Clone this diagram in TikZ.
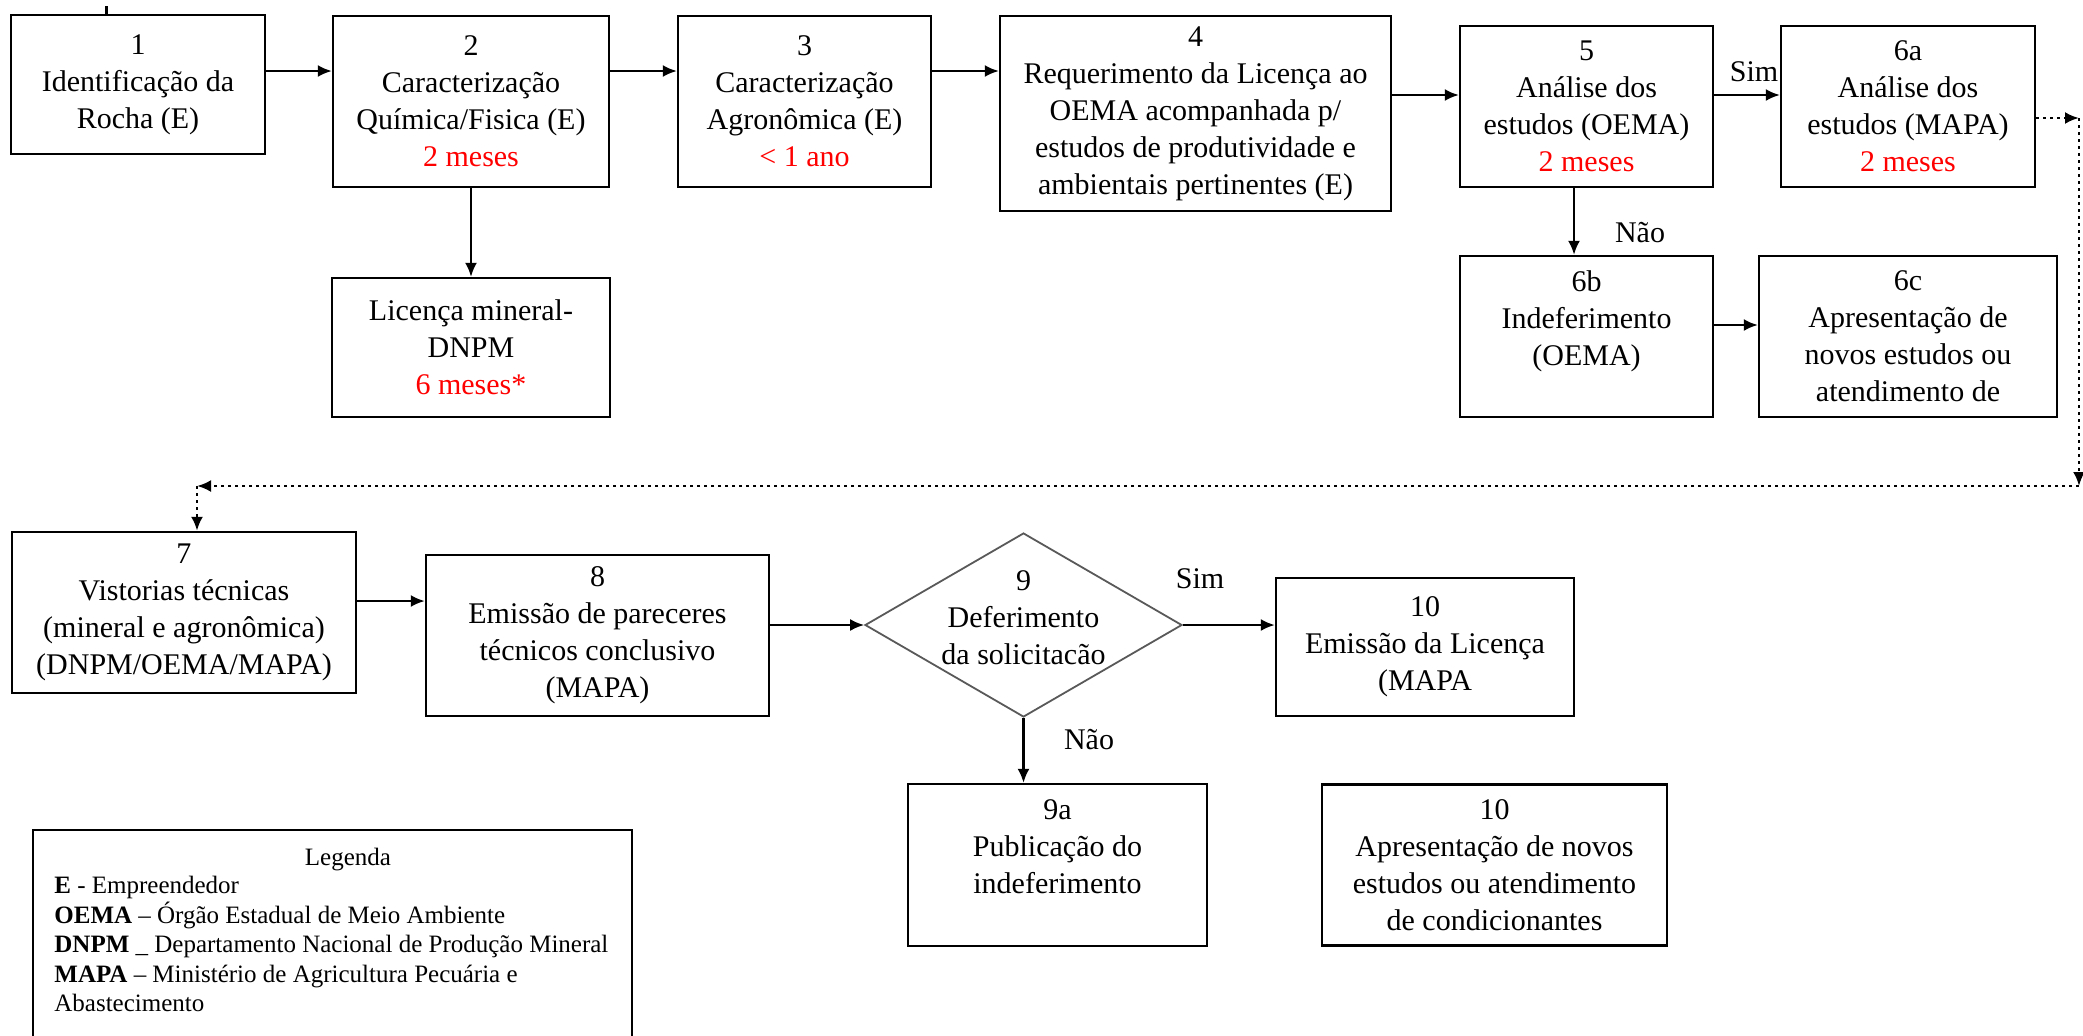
\documentclass[tikz,border=0pt]{standalone}
\usepackage{fontspec}
\setmainfont{Liberation Serif}
\usetikzlibrary{shapes.geometric,arrows.meta}
\tikzset{
  caixa/.style 2 args={draw, line width=1.2pt, align=center, inner sep=2pt,
    minimum width=#1*0.5pt, minimum height=#2*0.5pt,
    font=\fontsize{15}{18.5}\selectfont},
  decisao/.style={diamond, draw=black!65, line width=0.9pt, inner sep=0pt,
    minimum width=158.5pt, minimum height=92pt},
  texto/.style={align=center, inner sep=1pt, font=\fontsize{15}{18.5}\selectfont},
  rotulo/.style={inner sep=1pt, font=\fontsize{15}{18.5}\selectfont},
  legfont/.style={inner sep=0pt, font=\fontsize{12.5}{14.75}\selectfont},
  seta/.style={line width=1.1pt, -{Latex[length=7pt,width=6pt]}},
  pontos/.style={line width=1.3pt, dash pattern=on 1.3pt off 2.2pt,
    -{Latex[length=7pt,width=6pt]}},
}
\begin{document}
\begin{tikzpicture}[x=0.5pt, y=-0.5pt]
  \useasboundingbox (0,0) rectangle (2083,1035);
  % linha 1
  \node[caixa={254}{139}] (b1) at (138,84.5) {1\\Identificação da\\Rocha (E)};
  \node[caixa={276}{171}] (b2) at (471,101.5) {2\\Caracterização\\Química/Fisica (E)\\\textcolor{red}{2 meses}};
  \node[caixa={253}{171}] (b3) at (804.5,101.5) {3\\Caracterização\\Agronômica (E)\\\textcolor{red}{< 1 ano}};
  \node[caixa={391}{195}] (b4) at (1195.5,113.5) {4\\Requerimento da Licença ao\\OEMA acompanhada p/\\estudos de produtividade e\\ambientais pertinentes (E)};
  \node[caixa={253}{161}] (b5) at (1586.5,106.5) {5\\Análise dos\\estudos (OEMA)\\\textcolor{red}{2 meses}};
  \node[caixa={254}{161}] (b6a) at (1908,106.5) {6a\\Análise dos\\estudos (MAPA)\\\textcolor{red}{2 meses}};
  \node[caixa={278}{139}] (lic) at (471,347.5) {Licença mineral-\\DNPM\\\textcolor{red}{6 meses*}};
  \node[caixa={253}{161}] (b6b) at (1586.5,336.5) {6b\\Indeferimento\\(OEMA)\\\mbox{}};
  \node[caixa={298}{161}] (b6c) at (1908,336.5) {6c\\Apresentação de\\novos estudos ou\\atendimento de};
  % linha 2
  \node[caixa={344}{161}] (b7) at (184,612.5) {7\\Vistorias técnicas\\(mineral e agronômica)\\(DNPM/OEMA/MAPA)};
  \node[caixa={343}{161}] (b8) at (597.5,635.5) {8\\Emissão de pareceres\\técnicos conclusivo\\(MAPA)};
  \node[decisao] (d9) at (1023.5,625) {};
  \node[texto] (d9txt) at (1023.5,618) {9\\Deferimento\\da solicitacão};
  \node[caixa={298}{138}] (b10) at (1425,647) {10\\Emissão da Licença\\(MAPA};
  \node[caixa={299}{162}] (b9a) at (1057.5,865) {9a\\Publicação do\\indeferimento\\\mbox{}};
  \node[caixa={345}{161}] (b10b) at (1494.5,865) {10\\Apresentação de novos\\estudos ou atendimento\\de condicionantes};
  % legenda
  \node[draw, line width=1.2pt, minimum width=299.5pt, minimum height=120pt] (leg) at (332.5,950) {};
  \node[legfont] (legtit) at (348,860) {Legenda};
  \node[legfont, anchor=north west, align=left] (legtxt) at (54,876) {\textbf{E} - Empreendedor\\
    \textbf{OEMA} – Órgão Estadual de Meio Ambiente\\
    \textbf{DNPM} \_ Departamento Nacional de Produção Mineral\\
    \textbf{MAPA} – Ministério de Agricultura Pecuária e\\
    Abastecimento};
  % rotulos
  \node[rotulo] (sim1) at (1754,72) {Sim};
  \node[rotulo] (nao1) at (1640,233) {Não};
  \node[rotulo] (sim2) at (1200,579) {Sim};
  \node[rotulo] (nao2) at (1089,740) {Não};
  % niveis das setas
  \coordinate (l1) at (0,71);
  \coordinate (l2) at (0,95);
  \coordinate (l3) at (0,325);
  \coordinate (l4) at (0,601);
  \coordinate (c5) at (1574,0);
  \coordinate (p1) at (2079,118);
  \coordinate (p2) at (2079,486);
  \coordinate (p3) at (197,486);
  \coordinate (stub) at (106,6);
  % setas
  \draw[line width=1.5pt] (stub) -- (stub |- b1.north); % traco no topo
  \draw[seta] (b1.east |- l1) -- (b2.west |- l1);
  \draw[seta] (b2.east |- l1) -- (b3.west |- l1);
  \draw[seta] (b3.east |- l1) -- (b4.west |- l1);
  \draw[seta] (b4.east |- l2) -- (b5.west |- l2);
  \draw[seta] (b5.east |- l2) -- (b6a.west |- l2);
  \draw[seta] (b2.south) -- (lic.north);
  \draw[seta] (b5.south -| c5) -- (b6b.north -| c5);
  \draw[seta] (b6b.east |- l3) -- (b6c.west |- l3);
  \draw[seta] (b7.east |- l4) -- (b8.west |- l4);
  \draw[seta] (b8.east |- d9.west) -- (d9.west);
  \draw[seta] (d9.east) -- (b10.west |- d9.east);
  \draw[seta] (d9.south) -- (d9.south |- b9a.north);
  % retorno pontilhado
  \draw[pontos] (b6a.east |- p1) -- (p1);
  \draw[pontos] (p1) -- (p2);
  \draw[pontos] (p2) -- (p3);
  \draw[pontos] (p3) -- (p3 |- b7.north);
\end{tikzpicture}
\end{document}
